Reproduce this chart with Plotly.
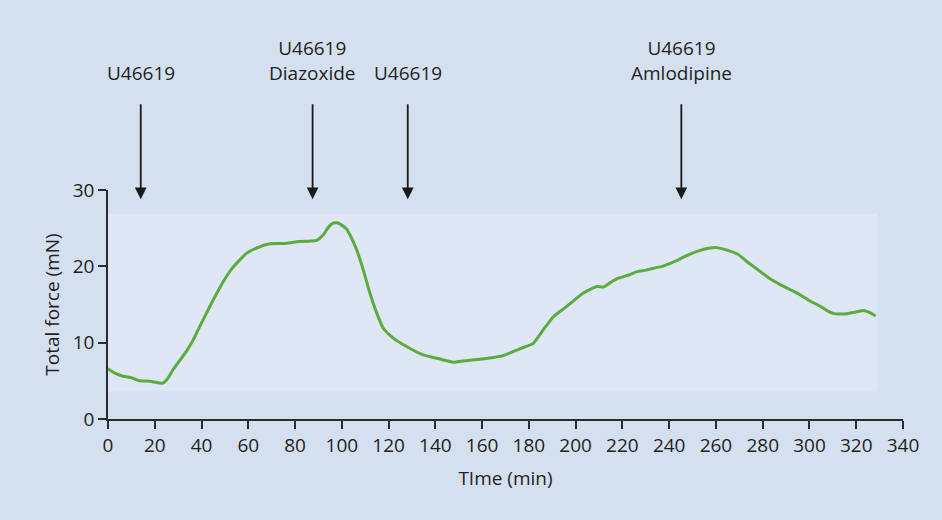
import plotly.graph_objects as go

# Total force trace (min, mN)
time_min = [0, 3, 6.4, 10, 13.6, 18, 23.5, 25.5, 27.8, 30.5, 33.5, 36.5, 39.2, 42, 45, 48, 50.7,
            53.5, 56.4, 59.2, 63.5, 69.2, 75, 82, 86, 89.2, 92, 94.5, 96.3, 98, 99.9, 102, 103.5,
            106.3, 109.2, 112, 114.9, 117.7, 122, 127.7, 134.8, 142, 147.7, 152, 156.3, 160,
            164.8, 169, 173.4, 178, 182, 186.2, 190.5, 196.2, 203.3, 209.1, 211.9, 215, 218.3,
            220.5, 223, 226.2, 230, 233.3, 237, 240.5, 243, 246.1, 249, 251.9, 254.5, 257.6,
            260.5, 263.3, 266, 269, 271, 273.3, 276, 279, 283, 287.5, 292, 296.1, 300,
            304.7, 307.5, 310.4, 313, 316.1, 319.5, 323.2, 326, 328.3]
force_mN = [6.6, 6.0, 5.6, 5.4, 5.0, 4.95, 4.7, 5.3, 6.45, 7.6, 8.85, 10.4, 12.1, 13.8, 15.6,
            17.3, 18.7, 19.9, 20.85, 21.7, 22.4, 22.95, 23.0, 23.25, 23.3, 23.4, 24.1, 25.2,
            25.65, 25.7, 25.4, 24.9, 24.1, 22.2, 19.5, 16.5, 13.9, 11.9, 10.6, 9.5, 8.4, 7.85,
            7.45, 7.6, 7.75, 7.85, 8.05, 8.3, 8.85, 9.4, 9.95, 11.7, 13.4, 14.75, 16.5, 17.35,
            17.3, 17.9, 18.45, 18.65, 18.9, 19.3, 19.5, 19.75, 20.0, 20.4, 20.7, 21.2, 21.6,
            21.95, 22.2, 22.4, 22.45, 22.25, 22.0, 21.65, 21.2, 20.6, 20.0, 19.3, 18.4, 17.6,
            16.9, 16.25, 15.5, 14.75, 14.2, 13.8, 13.75, 13.8, 14.0, 14.2, 13.9, 13.5]

# Drug additions: time of addition and label text
dose_times = [14, 87.5, 128.2, 245.2]
dose_labels = ["U46619", "U46619<br>Diazoxide", "U46619", "U46619<br>Amlodipine"]

# Recording window shaded behind the trace
window_x = [0, 329]
window_y = [3.6, 26.9]

x_ticks = list(range(0, 341, 20))
y_ticks = [0, 10, 20, 30]

FONT = "Open Sans"
FS = 19
TEXT = "#231f20"
OUTER_BG = "#d4dff0"
INNER_BG = "#dfe6f5"
GREEN = "#5aad3c"

fig = go.Figure()

fig.add_shape(type="rect", xref="x", yref="y",
              x0=window_x[0], x1=window_x[1], y0=window_y[0], y1=window_y[1],
              fillcolor=INNER_BG, line=dict(width=0), layer="below")

fig.add_trace(go.Scatter(x=time_min, y=force_mN, mode="lines",
                         line=dict(color=GREEN, width=3, shape="spline", smoothing=0.5),
                         hoverinfo="skip", showlegend=False))

for t, lab in zip(dose_times, dose_labels):
    fig.add_annotation(x=t, y=28.8, xref="x", yref="y",
                       ax=0, ay=-105, axref="pixel", ayref="pixel",
                       showarrow=True, arrowhead=2, arrowsize=1.3, arrowwidth=1.8,
                       arrowcolor="#1a1a1a", standoff=0)
    fig.add_annotation(x=t, y=(419 - 94) / 229, xref="x", yref="paper",
                       text=lab, showarrow=False, yanchor="bottom", align="center",
                       yshift=6, font=dict(family=FONT, size=FS, color=TEXT))

axis_common = dict(showgrid=False, zeroline=False, showline=True, linecolor="#2b2b2b",
                   linewidth=1.5, ticks="outside", ticklen=8, tickwidth=1.5,
                   tickcolor="#2b2b2b", tickfont=dict(family=FONT, size=FS, color=TEXT))

fig.update_layout(
    width=942, height=520,
    margin=dict(l=108, r=39, t=190, b=101),
    paper_bgcolor=OUTER_BG, plot_bgcolor=OUTER_BG,
    xaxis=dict(range=[0, 340], tickvals=x_ticks,
               title=dict(text="TIme (min)", font=dict(family=FONT, size=FS, color=TEXT),
                          standoff=15),
               **axis_common),
    yaxis=dict(range=[0, 30], tickvals=y_ticks,
               title=dict(text="Total force (mN)", font=dict(family=FONT, size=FS, color=TEXT),
                          standoff=8),
               **axis_common),
)

fig.write_html("out.html")
